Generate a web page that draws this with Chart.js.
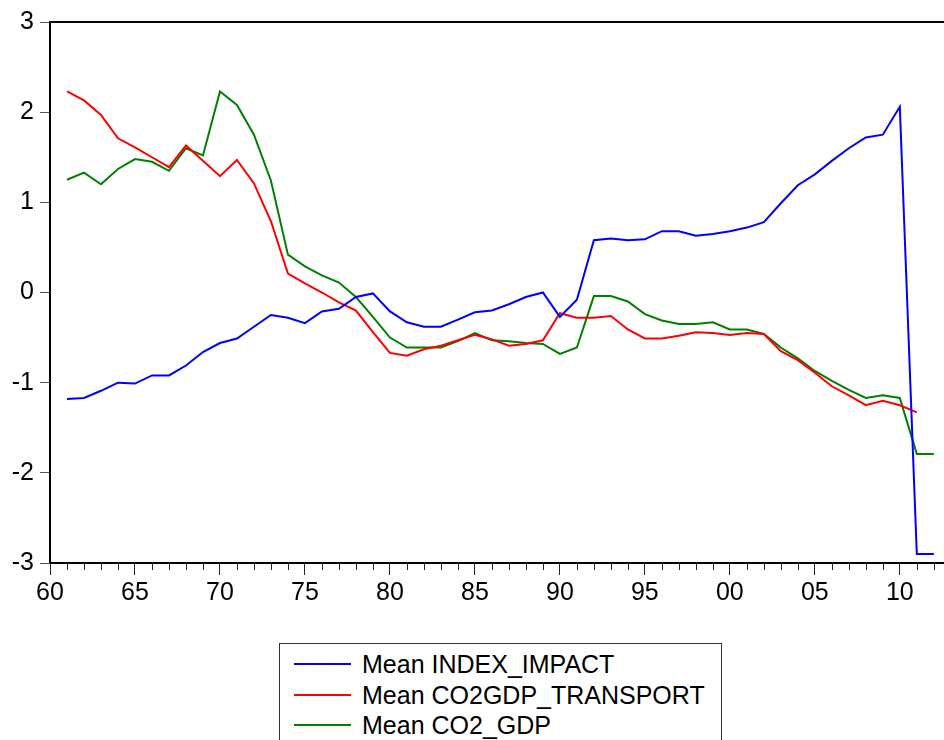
<!DOCTYPE html>
<html>
<head>
<meta charset="utf-8">
<script src="https://cdn.jsdelivr.net/npm/chart.js@4.4.1/dist/chart.umd.min.js"></script>
<style>
  html, body { margin: 0; padding: 0; background: #fff; overflow: hidden; }
  #wrap { position: relative; width: 944px; height: 740px; }
  #box { position: absolute; left: 0; top: 0; width: 944px; height: 615px; }
  #legend {
    position: absolute; left: 279px; top: 643px; width: 441px; height: 120px;
    border: 1.5px solid #333; font-family: Arial, "Liberation Sans", sans-serif;
    font-size: 25px; color: #000;
  }
  .row { position: absolute; left: 0; height: 30px; line-height: 30px; white-space: nowrap; }
  .row .ln { position: absolute; left: 14px; top: 14px; width: 57px; height: 2px; }
  .row .tx { position: absolute; left: 82px; top: 0; }
</style>
</head>
<body>
<div id="wrap">
  <div id="box"><canvas id="chart"></canvas></div>
  <div id="legend"></div>
</div>
<script>
const years = [1961, 1962, 1963, 1964, 1965, 1966, 1967, 1968, 1969, 1970,
  1971, 1972, 1973, 1974, 1975, 1976, 1977, 1978, 1979, 1980,
  1981, 1982, 1983, 1984, 1985, 1986, 1987, 1988, 1989, 1990,
  1991, 1992, 1993, 1994, 1995, 1996, 1997, 1998, 1999, 2000,
  2001, 2002, 2003, 2004, 2005, 2006, 2007, 2008, 2009, 2010,
  2011, 2012];

const indexImpact = [-1.18, -1.17, -1.09, -1.00, -1.01, -0.92, -0.92, -0.81, -0.66, -0.56,
  -0.51, -0.38, -0.25, -0.28, -0.34, -0.21, -0.18, -0.05, -0.01, -0.21,
  -0.33, -0.38, -0.38, -0.30, -0.22, -0.20, -0.13, -0.05, 0.00, -0.27,
  -0.08, 0.58, 0.60, 0.58, 0.59, 0.68, 0.68, 0.63, 0.65, 0.68,
  0.72, 0.78, 0.99, 1.19, 1.31, 1.46, 1.60, 1.72, 1.75, 2.06,
  -2.90, -2.90];

const co2gdpTransport = [2.23, 2.13, 1.97, 1.71, 1.61, 1.50, 1.39, 1.63, 1.46, 1.29,
  1.47, 1.21, 0.79, 0.21, 0.10, 0.00, -0.11, -0.20, -0.44, -0.67,
  -0.70, -0.63, -0.59, -0.53, -0.47, -0.52, -0.59, -0.57, -0.53, -0.23,
  -0.28, -0.28, -0.26, -0.41, -0.51, -0.51, -0.48, -0.44, -0.45, -0.47,
  -0.45, -0.46, -0.65, -0.75, -0.89, -1.04, -1.14, -1.25, -1.20, -1.25,
  -1.33, null];

const co2Gdp = [1.25, 1.33, 1.20, 1.37, 1.48, 1.45, 1.35, 1.60, 1.52, 2.23,
  2.08, 1.75, 1.24, 0.42, 0.29, 0.19, 0.11, -0.05, -0.27, -0.50,
  -0.61, -0.61, -0.61, -0.54, -0.45, -0.53, -0.54, -0.56, -0.57, -0.68,
  -0.61, -0.04, -0.04, -0.10, -0.24, -0.31, -0.35, -0.35, -0.33, -0.41,
  -0.41, -0.46, -0.61, -0.73, -0.87, -0.98, -1.08, -1.17, -1.14, -1.17,
  -1.79, -1.79];

const seriesNames = ['Mean INDEX_IMPACT', 'Mean CO2GDP_TRANSPORT', 'Mean CO2_GDP'];
const seriesColors = ['#0000ff', '#ff0000', '#008000'];
const yTicks = [3, 2, 1, 0, -1, -2, -3];

const toPoints = function (vals) {
  return years.map((yr, i) => ({ x: yr, y: vals[i] }))
}

const FONT = { family: 'Arial, "Liberation Sans", sans-serif', size: 25 };

// frame + minor year ticks (EViews style)
const framePlugin = {
  id: 'frame',
  afterDraw(chart) {
    const { ctx, chartArea: a, scales } = chart;
    ctx.save();
    ctx.strokeStyle = '#000';
    ctx.lineWidth = 2;
    ctx.beginPath();
    ctx.moveTo(a.left, a.bottom);
    ctx.lineTo(a.left, a.top);
    ctx.lineTo(a.right + 2, a.top);
    ctx.moveTo(a.left, a.bottom);
    ctx.lineTo(a.right + 2, a.bottom);
    ctx.stroke();
    ctx.lineWidth = 1;
    ctx.strokeStyle = '#222';
    for (let yr = 1961; yr <= 2012; yr++) {
      if (yr % 5 === 0) continue;
      const px = Math.round(scales.x.getPixelForValue(yr)) + 0.5;
      ctx.beginPath();
      ctx.moveTo(px, a.bottom);
      ctx.lineTo(px, a.bottom + 7);
      ctx.stroke();
    }
    ctx.restore();
  }
};

const chart = new Chart(document.getElementById('chart'), {
  type: 'line',
  data: {
    datasets: [
      { label: seriesNames[0], data: toPoints(indexImpact), borderColor: seriesColors[0] },
      { label: seriesNames[1], data: toPoints(co2gdpTransport), borderColor: seriesColors[1] },
      { label: seriesNames[2], data: toPoints(co2Gdp), borderColor: seriesColors[2] }
    ]
  },
  options: {
    responsive: true,
    maintainAspectRatio: false,
    animation: false,
    datasets: { line: { borderWidth: 2, pointRadius: 0, tension: 0, spanGaps: false } },
    layout: { padding: { top: 22, right: 0, left: 0, bottom: 0 } },
    plugins: { legend: { display: false }, tooltip: { enabled: false } },
    scales: {
      x: {
        type: 'linear',
        min: 1960,
        max: 2012.6,
        afterFit: (s) => { s.height = 52 },
        afterBuildTicks: (s) => {
          s.ticks = [1960, 1965, 1970, 1975, 1980, 1985, 1990, 1995, 2000, 2005, 2010].map(v => ({ value: v }))
        },
        ticks: {
          autoSkip: false,
          maxRotation: 0,
          padding: 3,
          color: '#000',
          font: FONT,
          callback: (v) => String(v % 100).padStart(2, '0')
        },
        grid: { drawOnChartArea: false, tickLength: 12, tickColor: '#222', tickWidth: 1 },
        border: { display: false }
      },
      y: {
        min: -3,
        max: 3,
        afterFit: (s) => { s.width = 50 },
        afterBuildTicks: (s) => { s.ticks = yTicks.map(v => ({ value: v })) },
        ticks: { color: '#000', font: FONT, padding: 6 },
        grid: { drawOnChartArea: false, tickLength: 10, tickColor: '#555', tickWidth: 1 },
        border: { display: false }
      }
    }
  },
  plugins: [framePlugin]
});

// legend box built from the chart datasets
const legendEl = document.getElementById('legend');
chart.data.datasets.forEach((ds, i) => {
  const row = document.createElement('div');
  row.className = 'row';
  row.style.top = (5 + i * 30.5) + 'px';
  row.innerHTML = '<span class="ln" style="background:' + ds.borderColor + '"></span><span class="tx">' + ds.label + '</span>';
  legendEl.appendChild(row);
});
</script>
</body>
</html>
